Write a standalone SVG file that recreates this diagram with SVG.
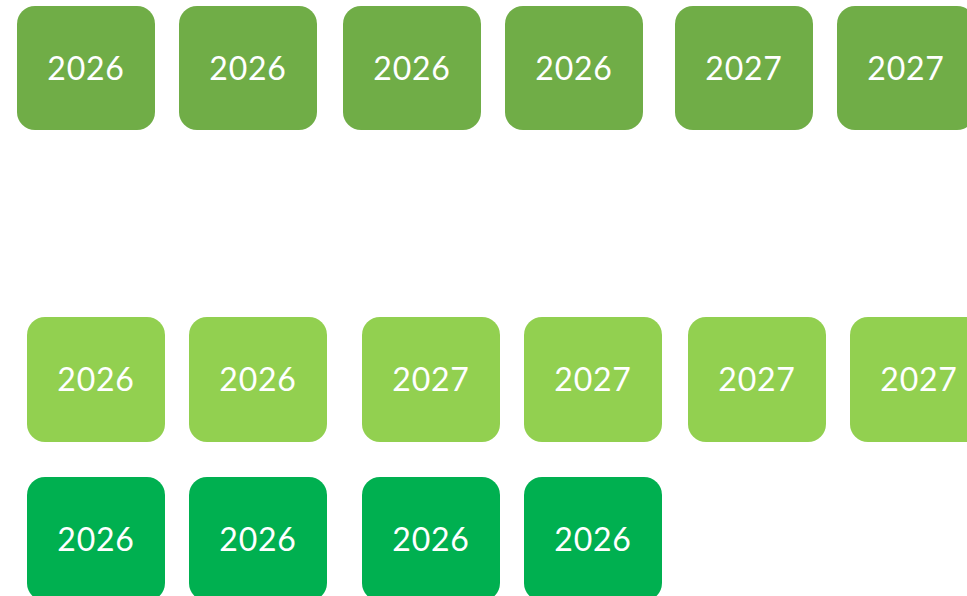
<svg xmlns="http://www.w3.org/2000/svg" width="967" height="596" viewBox="0 0 967 596">
  <style>
    .box rect { rx: 18px; ry: 18px; }
    .olive rect { fill: #70AD47; }
    .lime rect { fill: #92D050; }
    .green rect { fill: #00B050; }
    .box text { font-family: Lato, "Open Sans", sans-serif; font-size: 32px; font-weight: 400; letter-spacing: 0.8px; fill: #ffffff; text-anchor: middle; }
  </style>
  <rect width="967" height="596" fill="#ffffff"/>
  <!-- top row -->
  <g id="t1" class="box olive"><rect x="17" y="6" width="138" height="124"/><text x="86" y="80">2026</text></g>
  <g id="t2" class="box olive"><rect x="179" y="6" width="138" height="124"/><text x="248" y="80">2026</text></g>
  <g id="t3" class="box olive"><rect x="343" y="6" width="138" height="124"/><text x="412" y="80">2026</text></g>
  <g id="t4" class="box olive"><rect x="505" y="6" width="138" height="124"/><text x="574" y="80">2026</text></g>
  <g id="t5" class="box olive"><rect x="675" y="6" width="138" height="124"/><text x="744" y="80">2027</text></g>
  <g id="t6" class="box olive"><rect x="837" y="6" width="138" height="124"/><text x="906" y="80">2027</text></g>
  <!-- middle row -->
  <g id="m1" class="box lime"><rect x="27" y="317" width="138" height="125"/><text x="96" y="391">2026</text></g>
  <g id="m2" class="box lime"><rect x="189" y="317" width="138" height="125"/><text x="258" y="391">2026</text></g>
  <g id="m3" class="box lime"><rect x="362" y="317" width="138" height="125"/><text x="431" y="391">2027</text></g>
  <g id="m4" class="box lime"><rect x="524" y="317" width="138" height="125"/><text x="593" y="391">2027</text></g>
  <g id="m5" class="box lime"><rect x="688" y="317" width="138" height="125"/><text x="757" y="391">2027</text></g>
  <g id="m6" class="box lime"><rect x="850" y="317" width="138" height="125"/><text x="919" y="391">2027</text></g>
  <!-- bottom row -->
  <g id="b1" class="box green"><rect x="27" y="477" width="138" height="124"/><text x="96" y="551">2026</text></g>
  <g id="b2" class="box green"><rect x="189" y="477" width="138" height="124"/><text x="258" y="551">2026</text></g>
  <g id="b3" class="box green"><rect x="362" y="477" width="138" height="124"/><text x="431" y="551">2026</text></g>
  <g id="b4" class="box green"><rect x="524" y="477" width="138" height="124"/><text x="593" y="551">2026</text></g>
  <g id="connectors"/>
</svg>
